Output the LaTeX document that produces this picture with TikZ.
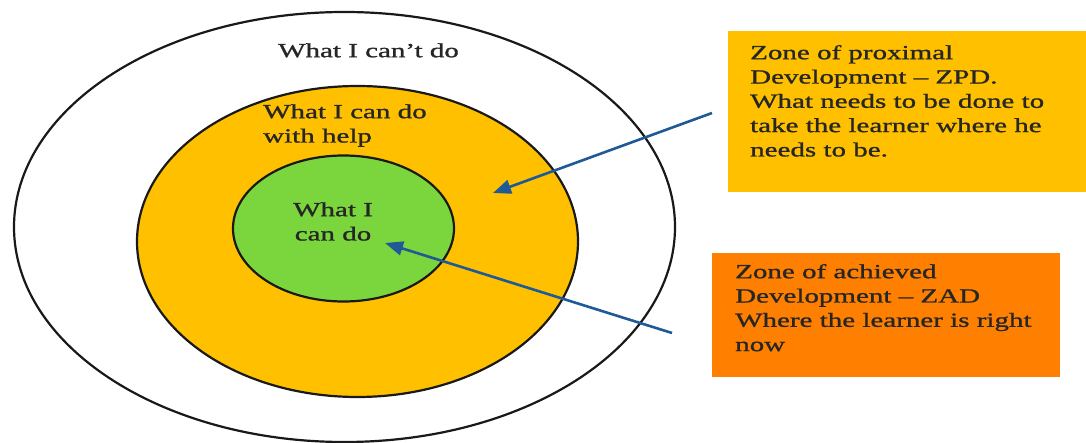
\documentclass[tikz,border=0pt]{standalone}
\usepackage{fontspec}
\setmainfont[FakeStretch=1.45,FakeBold=1.2]{Liberation Serif}
\usetikzlibrary{arrows.meta,shapes.geometric}
\definecolor{zpdcol}{RGB}{255,192,0}
\definecolor{zadcol}{RGB}{255,128,0}
\definecolor{greencol}{RGB}{122,214,60}
\definecolor{arrowcol}{RGB}{31,90,150}
\newcommand{\firstln}{\rule{0pt}{15pt}}
\begin{document}
\begin{tikzpicture}[x=1pt,y=-1pt,
  ring/.style={draw=black!90,line width=2.2pt,ellipse,inner sep=0pt},
  lbl/.style={inner sep=0pt,anchor=north west,align=left,font=\fontsize{20}{24.3}\selectfont,text=black!85},
  zonebox/.style={draw=none,inner sep=0pt,anchor=north west},
  pointer/.style={draw=arrowcol,line width=2.6pt,-{Triangle[length=18pt,width=14pt]}}]
\useasboundingbox (0,0) rectangle (1086,443);
\fill[white] (0,0) rectangle (1086,443);
% rings
\node[ring,fill=white,minimum width=661,minimum height=430] (outer) at (344.5,227) {};
\node[ring,fill=zpdcol,minimum width=441,minimum height=311] (middle) at (357.5,241.5) {};
\node[ring,fill=greencol,minimum width=221,minimum height=146] (inner) at (343.5,228.5) {};
% ring labels
\node[lbl] (cant) at (278,42) {\firstln What I can’t do};
\node[lbl] (help) at (263,103) {\firstln What I can do\\with help};
\node[lbl,anchor=north,align=center] (cando) at (333,201) {\firstln What I\\can do};
% boxes
\node[zonebox,fill=zpdcol,minimum width=358,minimum height=161] (zpd) at (728,31) {};
\node[zonebox,fill=zadcol,minimum width=348,minimum height=124] (zad) at (712,253) {};
\node[lbl] (zpdtext) at (750,44) {\firstln Zone of proximal\\Development – ZPD.\\What needs to be done to\\take the learner where he\\needs to be.};
\node[lbl] (zadtext) at (735,263) {\firstln Zone of achieved\\Development – ZAD\\Where the learner is right\\now};
% arrows
\coordinate (zpdtail) at (712,113);
\coordinate (zpdtip) at (493,193);
\coordinate (zadtail) at (672,333);
\coordinate (zadtip) at (385,243);
\draw[pointer] (zpdtail) -- (zpdtip);
\draw[pointer] (zadtail) -- (zadtip);
\end{tikzpicture}
\end{document}
